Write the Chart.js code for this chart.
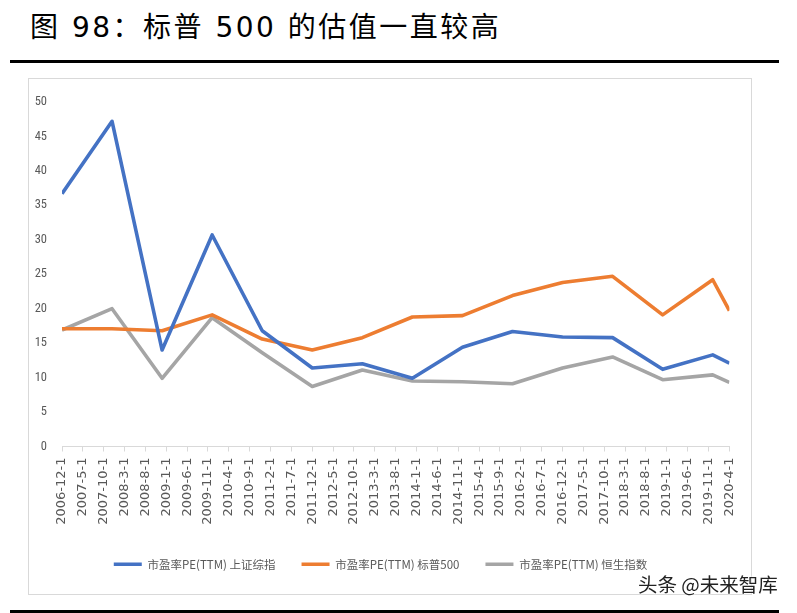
<!DOCTYPE html>
<html>
<head>
<meta charset="utf-8">
<script src="https://cdn.jsdelivr.net/npm/chart.js@4"></script>
<style>
  html, body { margin: 0; padding: 0; background: #ffffff; }
  body { width: 797px; height: 613px; position: relative; overflow: hidden; }
  #title {
    position: absolute; left: 30px; top: 5px;
    font-family: "DejaVu Sans", "Noto Sans CJK SC", sans-serif;
    font-size: 28px; letter-spacing: 2.5px; color: #000; white-space: nowrap;
  }
  .rule { position: absolute; left: 10px; width: 769px; height: 3px; background: #000; }
  #frame {
    position: absolute; left: 28px; top: 78px; width: 722px; height: 515px;
    border: 1px solid #d9d9d9;
  }
  #wrap { position: absolute; left: 28px; top: 78px; width: 723px; height: 516px; }
  #mark {
    position: absolute; left: 638px; top: 569px;
    font-family: "Noto Sans CJK SC", sans-serif; font-size: 19.5px; color: #222;
    text-shadow: 0 0 2px #fff, 0 0 2px #fff; white-space: nowrap;
  }
</style>
</head>
<body>
<div id="title">图 98：标普 500 的估值一直较高</div>
<div class="rule" style="top:60px"></div>
<div id="frame"></div>
<div id="wrap"><canvas id="peChart" width="723" height="516"></canvas></div>
<div id="mark">头条 @未来智库</div>
<div class="rule" style="top:610px"></div>
<script>
// Data
var dates = ['2006-12', '2007-12', '2008-12', '2009-12', '2010-12', '2011-12', '2012-12',
             '2013-12', '2014-12', '2015-12', '2016-12', '2017-12', '2018-12', '2019-12', '2020-4'];
var shanghaiPE = [36.7, 47.2, 14.0, 30.7, 16.8, 11.4, 12.0, 9.9, 14.4, 16.7, 15.9, 15.8, 11.2, 13.3, 12.1];
var sp500PE = [17.1, 17.1, 16.8, 19.1, 15.6, 14.0, 15.8, 18.8, 19.0, 21.9, 23.8, 24.7, 19.1, 24.2, 19.7];
var hangSengPE = [16.9, 20.0, 9.9, 18.7, 13.6, 8.7, 11.1, 9.5, 9.4, 9.1, 11.4, 13.0, 9.7, 10.4, 9.3];
var tickLabels = ['2006-12-1', '2007-5-1', '2007-10-1', '2008-3-1', '2008-8-1', '2009-1-1', '2009-6-1',
                  '2009-11-1', '2010-4-1', '2010-9-1', '2011-2-1', '2011-7-1', '2011-12-1', '2012-5-1',
                  '2012-10-1', '2013-3-1', '2013-8-1', '2014-1-1', '2014-6-1', '2014-11-1', '2015-4-1',
                  '2015-9-1', '2016-2-1', '2016-7-1', '2016-12-1', '2017-5-1', '2017-10-1', '2018-3-1',
                  '2018-8-1', '2019-1-1', '2019-6-1', '2019-11-1', '2020-4-1'];
var seriesNames = ['市盈率PE(TTM) 上证综指', '市盈率PE(TTM) 标普500', '市盈率PE(TTM) 恒生指数'];

// months since 2006-12
function monthIndex(d) {
    var p = d.split('-');
    return (parseInt(p[0], 10) - 2006) * 12 + (parseInt(p[1], 10) - 12);
}
function points(values) {
    return values.map(function(v, i) { return { x: monthIndex(dates[i]), y: v }; });
}

var ctx = document.getElementById('peChart').getContext('2d');
var lineStyle = { borderWidth: 3.6, pointRadius: 0, tension: 0, borderJoinStyle: 'round', borderCapStyle: 'butt', fill: false };
var chart = new Chart(ctx, {
    type: 'line',
    data: {
        datasets: [
            Object.assign({ label: seriesNames[0], data: points(shanghaiPE), borderColor: '#4472C4', backgroundColor: '#4472C4' }, lineStyle),
            Object.assign({ label: seriesNames[1], data: points(sp500PE), borderColor: '#ED7D31', backgroundColor: '#ED7D31' }, lineStyle),
            Object.assign({ label: seriesNames[2], data: points(hangSengPE), borderColor: '#A5A5A5', backgroundColor: '#A5A5A5' }, lineStyle)
        ]
    },
    options: {
        responsive: false,
        animation: false,
        layout: { padding: { top: 24, left: 0, right: 18, bottom: 14 } },
        plugins: {
            tooltip: { enabled: false },
            legend: {
                position: 'bottom',
                labels: {
                    usePointStyle: true,
                    pointStyle: 'line',
                    pointStyleWidth: 28,
                    padding: 26,
                    color: '#595959',
                    font: { family: '"Noto Sans CJK SC", sans-serif', size: 11.5 }
                }
            }
        },
        scales: {
            x: {
                type: 'linear',
                min: 0,
                max: 160,
                afterFit: function(s) { s.height = 86; },
                afterBuildTicks: function(s) {
                    s.ticks = tickLabels.map(function(t, i) { return { value: i * 5 }; });
                },
                grid: { drawOnChartArea: false, drawTicks: true, tickLength: 5, color: '#d9d9d9' },
                border: { display: true, color: '#d9d9d9', width: 1 },
                ticks: {
                    autoSkip: false,
                    maxRotation: 90,
                    minRotation: 90,
                    padding: 6,
                    color: '#595959',
                    font: { family: '"DejaVu Sans", sans-serif', size: 13 },
                    callback: function(v) { return tickLabels[Math.round(v / 5)]; }
                }
            },
            y: {
                min: 0,
                max: 50,
                afterFit: function(s) { s.width = 34; },
                grid: { display: false, drawTicks: false },
                border: { display: false },
                ticks: {
                    stepSize: 5,
                    padding: 15,
                    color: '#595959',
                    font: { family: '"Liberation Sans Narrow", "Roboto Condensed", "Liberation Sans", sans-serif', size: 12.5 }
                }
            }
        }
    }
});
</script>
</body>
</html>
